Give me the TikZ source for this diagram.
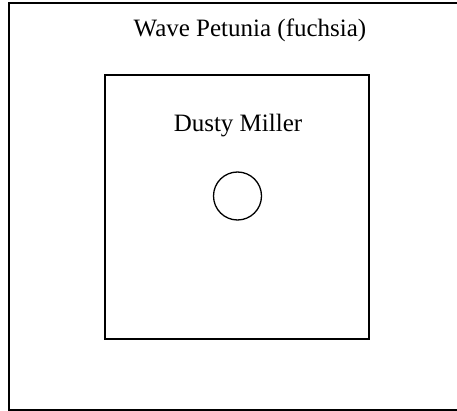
\documentclass[tikz,border=0pt]{standalone}
\usepackage{fontspec}
\setmainfont{Liberation Serif}
\begin{document}
\begin{tikzpicture}[x=1pt,y=-1pt,
  bed/.style={draw=black,line width=1.3pt,inner sep=0pt,outer sep=0pt},
  lbl/.style={font=\fontsize{25}{30}\selectfont,inner sep=0pt,anchor=base}]
\useasboundingbox (0,0) rectangle (457,411);
\begin{scope}
\clip (0,0) rectangle (457,411);
\node[bed,minimum width=464pt,minimum height=407pt,anchor=north west] (outer) at (9,3) {};
\end{scope}
\node[bed,minimum width=264pt,minimum height=264pt,anchor=north west] (inner) at (105,75) {};
\node[lbl] (petunia) at (250,37) {Wave Petunia (fuchsia)};
\node[lbl] (miller) at (238,132) {Dusty Miller};
\node[draw=black,line width=1.3pt,circle,minimum size=48pt,inner sep=0pt] (plant) at (237.5,196) {};
\end{tikzpicture}
\end{document}
